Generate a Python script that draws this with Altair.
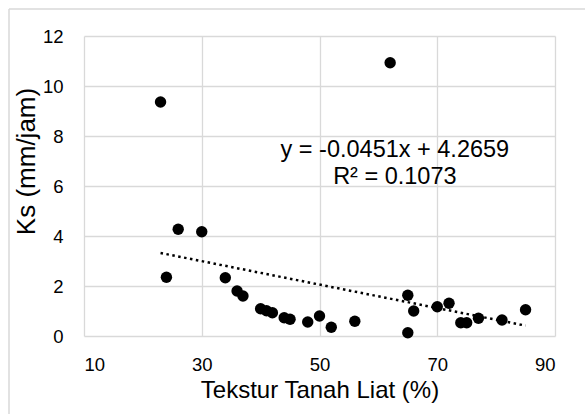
import altair as alt
import pandas as pd

# Data
clay = [23, 24, 26, 30, 34, 36, 37, 40, 41, 42, 44, 45, 48, 50, 52, 56,
        62, 65, 65, 66, 70, 72, 74, 75, 77, 81, 85]
ks = [9.36, 2.35, 4.27, 4.17, 2.33, 1.80, 1.60, 1.09, 1.01, 0.93, 0.73, 0.67,
      0.56, 0.80, 0.35, 0.59, 10.93, 1.63, 0.13, 1.00, 1.17, 1.31, 0.53, 0.53,
      0.71, 0.64, 1.05]

x_ticks = [10, 30, 50, 70, 90]
y_ticks = [0, 2, 4, 6, 8, 10, 12]

eq_lines = ["y = -0.0451x + 4.2659", "R\u00b2 = 0.1073"]
eq_x = [62.8, 62.8]
eq_y = [7.17, 6.07]

FONT = "Liberation Sans"
GRID = "#d9d9d9"

df = pd.DataFrame({"clay": clay, "ks": ks})
eq_df = pd.DataFrame({"label": eq_lines, "x": eq_x, "y": eq_y})
frame_df = pd.DataFrame({"k": [0]})

x_scale = alt.Scale(domain=[10, 90], nice=False, zero=False)
y_scale = alt.Scale(domain=[0, 12], nice=False)

x_axis = alt.Axis(values=x_ticks, title="Tekstur Tanah Liat (%)",
                  labelFontSize=18.5, labelPadding=34, labelBaseline="alphabetic",
                  titleFontSize=24, titleFontWeight="normal", titleBaseline="alphabetic",
                  titleY=61, titleX=235.5, titleAnchor="middle",
                  grid=True, ticks=False, tickSize=0, domain=False)
y_axis = alt.Axis(values=y_ticks, title="Ks (mm/jam)",
                  labelFontSize=18.5, labelPadding=21,
                  titleFontSize=26, titleFontWeight="normal",
                  titleX=-58, titleY=125, titleBaseline="middle", titleAnchor="middle",
                  grid=True, ticks=False, tickSize=0, domain=False)

base = alt.Chart(df)

points = base.mark_circle(size=130, opacity=1, color="black").encode(
    x=alt.X("clay:Q", scale=x_scale, axis=x_axis),
    y=alt.Y("ks:Q", scale=y_scale, axis=y_axis),
)

trend = base.transform_regression(
    "clay", "ks", method="linear", extent=[23, 85]
).mark_line(color="black", strokeWidth=2.5, strokeDash=[2.5, 3.5]).encode(
    x=alt.X("clay:Q", scale=x_scale),
    y=alt.Y("ks:Q", scale=y_scale),
)

eq = alt.Chart(eq_df).mark_text(
    font=FONT, fontSize=23.5, color="black", align="center", baseline="alphabetic"
).encode(
    x=alt.X("x:Q", scale=x_scale),
    y=alt.Y("y:Q", scale=y_scale),
    text="label:N",
)

# chart-area frame: only its left and top edges fall inside the picture
frame_left = alt.Chart(frame_df).mark_rule(color=GRID, strokeWidth=1.5).encode(
    x=alt.value(-75), y=alt.value(-27), y2=alt.value(378)
)
frame_top = alt.Chart(frame_df).mark_rule(color=GRID, strokeWidth=1.5).encode(
    y=alt.value(-27), x=alt.value(-75), x2=alt.value(501)
)

chart = alt.layer(frame_left, frame_top, trend, points, eq).properties(
    width=471, height=300,
    autosize=alt.AutoSizeParams(type="none"),
    padding={"left": 84, "top": 36, "right": 30, "bottom": 78},
    background="white",
).configure_view(
    stroke=None
).configure_axis(
    gridColor=GRID, gridWidth=1.3, labelColor="black", titleColor="black",
    labelFont=FONT, titleFont=FONT,
).configure_text(font=FONT)

chart.save("out.html", embed_options={"renderer": "svg", "actions": False})
